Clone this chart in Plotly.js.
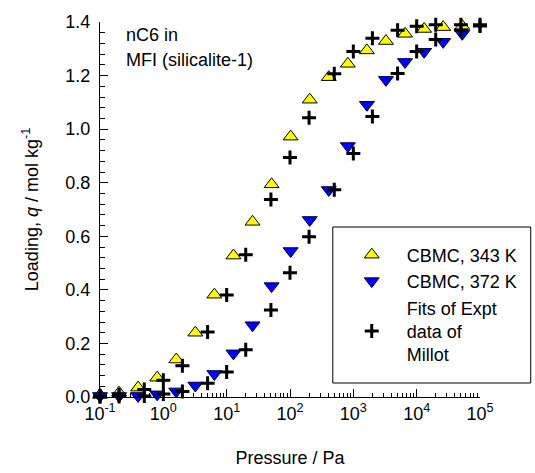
<!DOCTYPE html>
<html>
<head>
<meta charset="utf-8">
<script src="https://cdn.plot.ly/plotly-3.0.1.min.js"></script>
<style>html,body{margin:0;padding:0;background:#fff;}#chart{width:535px;height:473px;}</style>
</head>
<body>
<div id="chart"></div>
<script>
// CBMC simulation pressures (Pa)
const pCBMC = [0.1, 0.2, 0.4, 0.8, 1.6, 3.2, 6.4, 12.8, 25.6, 51.2, 102.4, 204.8, 409.6, 819.2, 1638.4, 3276.8, 6553.6, 13107.2, 26214.4, 52428.8];
// CBMC loadings (mol/kg)
const q343 = [0.008, 0.016, 0.035, 0.072, 0.140, 0.240, 0.382, 0.528, 0.654, 0.794, 0.972, 1.110, 1.194, 1.244, 1.294, 1.329, 1.356, 1.374, 1.381, 1.385];
const q372 = [0.004, 0.004, 0.004, 0.010, 0.021, 0.043, 0.086, 0.163, 0.268, 0.414, 0.545, 0.661, 0.773, 0.937, 1.091, 1.184, 1.251, 1.289, 1.326, 1.356];
// Fits of experimental data of Millot
const pFit = [0.1, 0.2, 0.5, 1, 2, 5, 10, 20, 50, 100, 200, 500, 1000, 2000, 5000, 10000, 20000, 50000, 100000];
const fit343 = [0.004, 0.008, 0.028, 0.063, 0.117, 0.243, 0.381, 0.531, 0.737, 0.894, 1.043, 1.207, 1.290, 1.339, 1.369, 1.384, 1.390, 1.390, 1.390];
const fit372 = [0.001, 0.002, 0.004, 0.011, 0.021, 0.051, 0.093, 0.176, 0.325, 0.464, 0.598, 0.774, 0.909, 1.047, 1.208, 1.290, 1.335, 1.370, 1.385];

const seriesNames = ['CBMC, 343 K', 'CBMC, 372 K', 'Fits of Expt<br>data of<br>Millot'];
const xTickVals = [0.1, 1, 10, 100, 1000, 10000, 100000];
const xTickText = ['10<sup>-1</sup>', '10<sup>0</sup>', '10<sup>1</sup>', '10<sup>2</sup>', '10<sup>3</sup>', '10<sup>4</sup>', '10<sup>5</sup>'];
const noteLines = ['nC6 in', 'MFI (silicalite-1)'];

const FONT = 'Liberation Sans, Arial, Helvetica, sans-serif';

// minor tick positions for the log axis (2..9 within each decade)
const xMinor = [];
for (let e = -1; e < 5; e++) for (let m = 2; m <= 9; m++) xMinor.push(m * Math.pow(10, e));

const crossMarker = {symbol: 'cross-thin', size: 10, color: 'black', line: {width: 3, color: 'black'}};

const traces = [
  {x: pCBMC, y: q343, name: seriesNames[0], type: 'scatter', mode: 'markers', cliponaxis: false,
   marker: {symbol: 'triangle-up', size: 13, color: '#FFFF00', line: {width: 1, color: '#000000'}}},
  {x: pCBMC, y: q372, name: seriesNames[1], type: 'scatter', mode: 'markers', cliponaxis: false,
   marker: {symbol: 'triangle-down', size: 13, color: '#0000FF', line: {width: 1, color: '#000040'}}},
  {x: pFit, y: fit343, name: seriesNames[2], legendgroup: 'fit', type: 'scatter', mode: 'markers', cliponaxis: false,
   marker: crossMarker},
  {x: pFit, y: fit372, name: seriesNames[2], legendgroup: 'fit', showlegend: false, type: 'scatter', mode: 'markers', cliponaxis: false,
   marker: crossMarker}
];

const layout = {
  width: 535, height: 473,
  margin: {l: 100, r: 53, t: 22, b: 76, pad: 0},
  paper_bgcolor: '#ffffff', plot_bgcolor: '#ffffff',
  font: {family: FONT, size: 18, color: '#000'},
  showlegend: true,
  legend: {x: 0.623, xanchor: 'left', y: 0.428, yanchor: 'top', bgcolor: 'rgba(0,0,0,0)', borderwidth: 0,
           itemwidth: 60, font: {family: FONT, size: 18, color: '#000'}, tracegroupgap: 0},
  xaxis: {
    type: 'log', range: [-1, 5], showgrid: false, zeroline: false,
    showline: true, linecolor: '#000', linewidth: 1, mirror: false,
    tickmode: 'array', tickvals: xTickVals, ticktext: xTickText,
    ticks: 'inside', ticklen: 8, tickwidth: 1, tickcolor: '#000',
    tickfont: {family: FONT, size: 18, color: '#000'},
    minor: {tickmode: 'array', tickvals: xMinor, ticks: 'inside', ticklen: 4, tickwidth: 1, tickcolor: '#000', showgrid: false},
    title: {text: 'Pressure / Pa', font: {family: FONT, size: 18, color: '#000'}, standoff: 28},
    automargin: false
  },
  yaxis: {
    range: [0, 1.4], showgrid: false, zeroline: false,
    showline: true, linecolor: '#000', linewidth: 1, mirror: false,
    dtick: 0.2, tick0: 0, tickformat: '.1f',
    ticks: 'inside', ticklen: 8, tickwidth: 1, tickcolor: '#000',
    ticklabelstandoff: 5,
    tickfont: {family: FONT, size: 18, color: '#000'},
    minor: {dtick: 0.04, ticks: 'inside', ticklen: 5, tickwidth: 1, tickcolor: '#000', showgrid: false},
    title: {text: 'Loading, <i>q</i> / mol kg<sup>-1</sup>', font: {family: FONT, size: 18, color: '#000'}, standoff: 22},
    automargin: false
  },
  shapes: [
    {type: 'rect', xref: 'paper', yref: 'paper', x0: 0.6126, x1: 1.1335, y0: 0.0373, y1: 0.4533,
     line: {color: '#000', width: 1}, fillcolor: 'rgba(0,0,0,0)', layer: 'below'}
  ],
  annotations: [
    {xref: 'paper', yref: 'paper', x: 0.063, y: 0.965, xanchor: 'left', yanchor: 'middle', showarrow: false,
     text: noteLines[0], font: {family: FONT, size: 18, color: '#000'}},
    {xref: 'paper', yref: 'paper', x: 0.063, y: 0.899, xanchor: 'left', yanchor: 'middle', showarrow: false,
     text: noteLines[1], font: {family: FONT, size: 18, color: '#000'}}
  ]
};

Plotly.newPlot('chart', traces, layout, {displayModeBar: false, staticPlot: true});
</script>
</body>
</html>
